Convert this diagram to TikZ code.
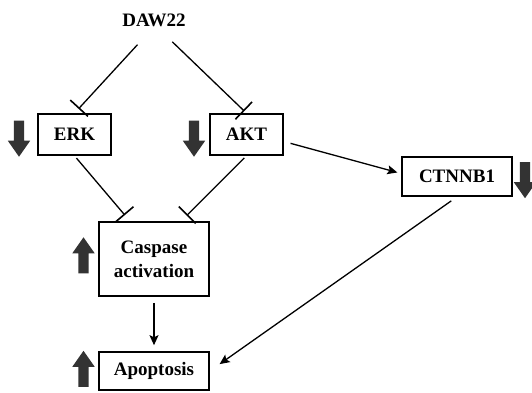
\documentclass[tikz,border=0pt]{standalone}
\usepackage{fontspec}
\setmainfont{Liberation Serif}
\usetikzlibrary{arrows.meta,shapes.arrows}

\begin{document}
\begin{tikzpicture}[x=1pt, y=-1pt, font=\fontsize{19}{24}\selectfont\bfseries]
    \tikzstyle{box} = [rectangle, draw, line width=1.6pt, align=center, inner sep=0pt]
    \tikzstyle{blk} = [shape=single arrow, fill=black!80, draw=none, inner sep=5pt,
                       text height=0pt, text depth=0pt, text width=0pt,
                       minimum height=36pt, minimum width=22pt,
                       single arrow head extend=6pt, single arrow tip angle=70]
    \tikzstyle{inh} = [line width=1.3pt, -{Bar[width=24pt, line width=1.6pt]}]
    \tikzstyle{act} = [line width=1.3pt, -{Stealth[length=10pt, width=9pt, inset=2pt]}]
  \useasboundingbox (0,0) rectangle (532,392);
  \node (daw) at (154,20) {DAW22};
  \node[box, minimum width=73pt, minimum height=41pt] (erk) at (74.5,134.5) {ERK};
  \node[box, minimum width=73pt, minimum height=41pt] (akt) at (246.5,134.5) {AKT};
  \node[box, minimum width=110pt, minimum height=74pt] (casp) at (154,259) {Caspase\\activation};
  \node[box, minimum width=110pt, minimum height=38pt] (apop) at (154,371) {Apoptosis};
  \node[box, minimum width=110pt, minimum height=39pt] (ctnnb) at (457,176.5) {CTNNB1};
  \node[blk, shape border rotate=270] (erkdn) at (19,135) {};
  \node[blk, shape border rotate=270] (aktdn) at (194,135) {};
  \node[blk, shape border rotate=270] (ctnnbdn) at (525,176.5) {};
  \node[blk, shape border rotate=90] (caspup) at (83.5,259) {};
  \node[blk, shape border rotate=90] (apopup) at (83.5,372.5) {};
  \draw[inh, shorten <=20pt, shorten >=6pt] ([xshift=-3pt]daw.south) -- (erk.north);
  \draw[inh, shorten <=17pt, shorten >=3pt] ([xshift=6pt]daw.south) -- (akt.north);
  \draw[inh, shorten <=3pt, shorten >=8pt] (erk.south) -- ([xshift=-24pt]casp.north);
  \draw[inh, shorten <=3pt, shorten >=8pt] (akt.south) -- ([xshift=27pt]casp.north);
  \draw[act, shorten <=6pt, shorten >=6pt] (casp) -- (apop);
  \draw[act, shorten <=7pt, shorten >=4pt] ([yshift=-7pt]akt.east) -- ([yshift=3pt]ctnnb.west);
  \draw[act, shorten <=7pt, shorten >=12pt] (ctnnb.south) -- (apop.east);
\end{tikzpicture}
\end{document}
